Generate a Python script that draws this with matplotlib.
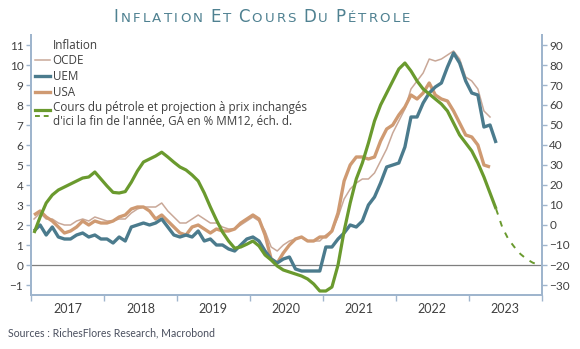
import numpy as np
import matplotlib
matplotlib.use("Agg")
import matplotlib.pyplot as plt
from matplotlib.lines import Line2D
from matplotlib.legend_handler import HandlerBase
from matplotlib.offsetbox import TextArea, HPacker, AnchoredOffsetbox
from matplotlib.ticker import FixedLocator, NullFormatter

# ---------------- data (monthly, starting Jan 2017) ----------------
start_year = 2017
usa = [2.5, 2.7, 2.4, 2.2, 1.9, 1.6, 1.7, 1.9, 2.2, 2.0, 2.2, 2.1,
       2.1, 2.2, 2.4, 2.5, 2.8, 2.9, 2.9, 2.7, 2.3, 2.5, 2.2, 1.9,
       1.6, 1.5, 1.9, 2.0, 1.8, 1.6, 1.8, 1.7, 1.7, 1.8, 2.1, 2.3,
       2.5, 2.3, 1.5, 0.3, 0.1, 0.6, 1.0, 1.3, 1.4, 1.2, 1.2, 1.4,
       1.4, 1.7, 2.6, 4.2, 5.0, 5.4, 5.4, 5.3, 5.4, 6.2, 6.8, 7.0,
       7.5, 7.9, 8.5, 8.3, 8.6, 9.1, 8.5, 8.3, 8.2, 7.7, 7.1, 6.5,
       6.4, 6.0, 5.0, 4.9]
uem = [1.7, 2.0, 1.5, 1.9, 1.4, 1.3, 1.3, 1.5, 1.6, 1.4, 1.5, 1.3,
       1.3, 1.1, 1.4, 1.2, 1.9, 2.0, 2.1, 2.0, 2.1, 2.3, 1.9, 1.5,
       1.4, 1.5, 1.4, 1.7, 1.2, 1.3, 1.0, 1.0, 0.8, 0.7, 1.0, 1.3,
       1.4, 1.2, 0.7, 0.3, 0.1, 0.3, 0.4, -0.2, -0.3, -0.3, -0.3, -0.3,
       0.9, 0.9, 1.3, 1.6, 2.0, 1.9, 2.2, 3.0, 3.4, 4.1, 4.9, 5.0,
       5.1, 5.9, 7.4, 7.4, 8.1, 8.6, 8.9, 9.1, 9.9, 10.6, 10.1, 9.2,
       8.6, 8.5, 6.9, 7.0, 6.1]
ocde = [2.3, 2.6, 2.3, 2.3, 2.1, 2.0, 2.0, 2.2, 2.3, 2.2, 2.4, 2.3,
        2.2, 2.2, 2.3, 2.3, 2.6, 2.8, 2.9, 2.9, 2.9, 3.1, 2.7, 2.4,
        2.1, 2.1, 2.3, 2.5, 2.3, 2.1, 2.1, 1.9, 1.8, 1.8, 2.0, 2.2,
        2.4, 2.2, 1.7, 0.9, 0.7, 1.0, 1.2, 1.3, 1.4, 1.2, 1.2, 1.2,
        1.5, 1.7, 2.4, 3.3, 3.8, 4.1, 4.3, 4.3, 4.6, 5.2, 5.8, 6.6,
        7.2, 7.8, 8.8, 9.2, 9.6, 10.3, 10.2, 10.3, 10.5, 10.7, 10.3, 9.4,
        9.2, 8.8, 7.7, 7.4]
oil = [-4, 4, 11, 15, 17.5, 19, 20.5, 22, 23.5, 24, 26.5, 23,
       19.5, 16.3, 16, 16.7, 21.4, 27, 31.5, 33, 34.5, 36.4, 34, 31.4,
       29, 27.5, 25, 22, 16, 9, 2.5, -3.5, -8, -11.6, -11, -9.6,
       -8, -10.5, -15, -17.5, -20.5, -22.5, -23.5, -24.5, -25.5, -27, -29.5, -33,
       -33, -31, -20, -3, 11, 23, 31, 41, 52, 60, 66, 72,
       78, 81, 77, 72, 68, 65.5, 63, 60.5, 57, 51, 45, 41,
       37, 31, 24, 16, 8]
oil_proj = [8, -1, -7, -11, -14.5, -17, -18.8, -20]  # May 2023 -> Dec 2023
oil_proj_start = len(oil) - 1

year_labels = ["2017", "2018", "2019", "2020", "2021", "2022", "2023"]
left_ticks = list(range(-1, 12))
right_ticks = list(range(-30, 100, 10))

title_words = ["INFLATION", "ET", "COURS", "DU", "PÉTROLE"]
legend_title = "Inflation"
labels = ["OCDE", "UEM", "USA",
          "Cours du pétrole et projection à prix inchangés\nd'ici la fin de l'année, GA en % MM12, éch. d."]
source_text = "Sources : RichesFlores Research, Macrobond"

# ---------------- style ----------------
C_OCDE = "#c9a898"
C_UEM = "#4b7b8d"
C_USA = "#cf9a72"
C_OIL = "#6a9a2e"
C_SPINE = "#9fb5cd"
C_TEXT = "#404040"
C_TITLE = "#4f8191"
FONT = "Lato"
LEG_FONT = "Open Sans"

plt.rcParams["font.family"] = [FONT, "DejaVu Sans"]


def months_to_x(n, offset=0):
    return start_year + (np.arange(n) + offset + 0.5) / 12.0


fig = plt.figure(figsize=(5.8, 3.49), dpi=100)
ax = fig.add_axes([31 / 580, 1 - 295 / 349, (541.7 - 31) / 580, (295 - 35) / 349])
ax2 = ax.twinx()

ax.plot(months_to_x(len(ocde)), ocde, color=C_OCDE, lw=1.1, zorder=3)
ax.plot(months_to_x(len(usa)), usa, color=C_USA, lw=2.4, zorder=4, solid_capstyle="butt")
ax.plot(months_to_x(len(uem)), uem, color=C_UEM, lw=2.4, zorder=5, solid_capstyle="butt")
ax.axhline(0, color="#7f7f7f", lw=0.9, zorder=2)

ax2.plot(months_to_x(len(oil)), oil, color=C_OIL, lw=2.3, solid_capstyle="butt")
ax2.plot(months_to_x(len(oil_proj), oil_proj_start), oil_proj, color=C_OIL, lw=1.4,
         linestyle=(0, (3, 3.5)))

# axes limits & ticks
ax.set_xlim(2017, 2024)
ax.set_ylim(-1.5, 11.5)
ax2.set_ylim(-35, 95)
ax.xaxis.set_major_locator(FixedLocator(np.arange(2017, 2025)))
ax.xaxis.set_major_formatter(NullFormatter())
ax.xaxis.set_minor_locator(FixedLocator(np.arange(2017, 2024) + 0.5))
ax.set_xticklabels(year_labels, minor=True)
ax.tick_params(axis="x", which="minor", length=0, pad=6, labelsize=9, labelcolor=C_TEXT)
ax.tick_params(axis="x", which="major", length=4, width=1, color=C_SPINE, direction="out")
ax.set_yticks(left_ticks)
ax2.set_yticks(right_ticks)
ax.tick_params(axis="y", length=3.5, width=1, color=C_SPINE, labelsize=8.5, labelcolor=C_TEXT, pad=2)
ax2.tick_params(axis="y", length=3.5, width=1, color=C_SPINE, labelsize=8.5, labelcolor=C_TEXT, pad=2)

for a in (ax, ax2):
    a.spines["top"].set_visible(False)
    for s in ("left", "right", "bottom"):
        a.spines[s].set_color(C_SPINE)
        a.spines[s].set_linewidth(1.4)
    a.patch.set_visible(False)


# legend
class SolidDashHandler(HandlerBase):
    def create_artists(self, legend, orig_handle, xdescent, ydescent, width, height,
                       fontsize, trans):
        x0, x1 = -xdescent, -xdescent + width
        yc = height / 2 - ydescent + 0.25 * fontsize
        l1 = Line2D([x0, x1], [yc + 0.2 * fontsize] * 2, color=C_OIL, lw=2.3, transform=trans)
        l2 = Line2D([x0, x1], [yc - 0.25 * fontsize] * 2, color=C_OIL, lw=1.4,
                    linestyle=(0, (2.5, 2)), transform=trans)
        return [l1, l2]


h_title = Line2D([], [], color="none")
h_ocde = Line2D([], [], color=C_OCDE, lw=1.1)
h_uem = Line2D([], [], color=C_UEM, lw=2.4)
h_usa = Line2D([], [], color=C_USA, lw=2.4)
h_oil = object()
leg = ax.legend([h_title, h_ocde, h_uem, h_usa, h_oil], [legend_title] + labels,
                handler_map={object: SolidDashHandler()},
                loc="upper left", bbox_to_anchor=(0.008, 0.985), frameon=False,
                prop=dict(family=[LEG_FONT, "DejaVu Sans"], size=8.4),
                handlelength=1.3, handletextpad=0.2, labelspacing=0.22,
                borderaxespad=0, borderpad=0)
for t in leg.get_texts():
    t.set_color(C_TEXT)
    t.set_linespacing(1.1)

# title with small caps
children = []
for i, w in enumerate(title_words):
    children.append(TextArea(w[0], textprops=dict(size=12, color=C_TITLE, family="DejaVu Sans")))
    for ch in w[1:]:
        children.append(TextArea(ch, textprops=dict(size=9.6, color=C_TITLE, family="DejaVu Sans")))
    if i < len(title_words) - 1:
        children.append(TextArea(" ", textprops=dict(size=6, family="DejaVu Sans")))
box = HPacker(children=children, align="baseline", pad=0, sep=1.6)
ab = AnchoredOffsetbox(loc="center", child=box, bbox_to_anchor=(262 / 580, 1 - 17 / 349),
                       bbox_transform=fig.transFigure, frameon=False, pad=0, borderpad=0)
fig.add_artist(ab)

fig.text(8 / 580, 1 - 333 / 349, source_text, fontsize=7.6, color="#4a4f5e", va="center", ha="left")

fig.savefig("out.png", dpi=100)
